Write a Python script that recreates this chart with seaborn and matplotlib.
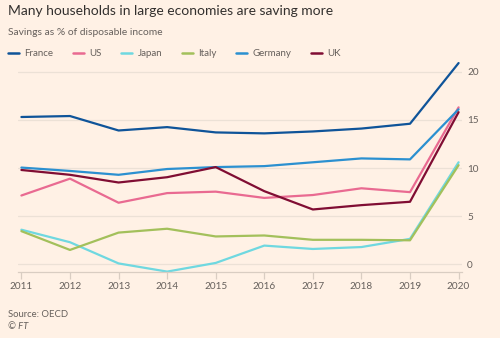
import matplotlib
matplotlib.use("Agg")
import matplotlib.pyplot as plt
import seaborn as sns
import pandas as pd

years = [2011, 2012, 2013, 2014, 2015, 2016, 2017, 2018, 2019, 2020]
countries = ["France", "US", "Japan", "Italy", "Germany", "UK"]
france = [15.3, 15.4, 13.9, 14.25, 13.7, 13.6, 13.8, 14.1, 14.6, 20.9]
us = [7.15, 8.9, 6.4, 7.4, 7.55, 6.9, 7.2, 7.9, 7.5, 16.3]
japan = [3.6, 2.3, 0.1, -0.75, 0.15, 1.95, 1.6, 1.8, 2.65, 10.6]
italy = [3.45, 1.5, 3.3, 3.7, 2.9, 3.0, 2.55, 2.55, 2.5, 10.3]
germany = [10.05, 9.7, 9.3, 9.9, 10.1, 10.2, 10.6, 11.0, 10.9, 16.1]
uk = [9.8, 9.3, 8.5, 9.05, 10.1, 7.6, 5.7, 6.15, 6.5, 15.8]
yticks = [0, 5, 10, 15, 20]

colors = ["#0f5499", "#e96a91", "#6fd8e0", "#a3c05b", "#2b90d0", "#800d33"]

series = [france, us, japan, italy, germany, uk]
df = pd.DataFrame({
    "year": years * len(countries),
    "country": [c for c in countries for _ in years],
    "savings": [v for s in series for v in s],
})

BG = "#fff1e5"
sns.set_theme(style="white")
plt.rcParams["font.family"] = ["Lato", "DejaVu Sans"]

fig = plt.figure(figsize=(5.0, 3.38), dpi=100, facecolor=BG)
ax = fig.add_axes([0.036, 0.195, 0.887, 0.627], facecolor=BG)

sns.lineplot(data=df, x="year", y="savings", hue="country", hue_order=countries,
             palette=colors, linewidth=1.6, ax=ax, legend=False)

ax.set_xlim(2010.93, 2020.06)
ax.set_ylim(-0.8, 21.2)
ax.set_xticks(years)
ax.set_xticklabels([str(y) for y in years])
ax.set_yticks(yticks)
ax.set_yticklabels([str(t) for t in yticks])
ax.yaxis.tick_right()
ax.grid(axis="y", color="#ece1d6", linewidth=0.9)
ax.set_axisbelow(True)
for side in ["left", "right", "top"]:
    ax.spines[side].set_visible(False)
ax.spines["bottom"].set_color("#d9cdc2")
ax.spines["bottom"].set_linewidth(0.9)
ax.tick_params(axis="x", length=5, width=0.9, color="#d9cdc2", pad=2,
               labelsize=7.2, labelcolor="#66605c", direction="out", bottom=True)
ax.tick_params(axis="y", length=0, pad=4, labelsize=7.2, labelcolor="#66605c")
ax.set_xlabel("")
ax.set_ylabel("")

fig.text(0.016, 0.966, "Many households in large economies are saving more",
         fontsize=10.0, color="#33302e", va="center", ha="left")
fig.text(0.016, 0.905, "Savings as % of disposable income",
         fontsize=7.4, color="#66605c", va="center", ha="left")

handles = [plt.Line2D([], [], color=c, linewidth=1.8) for c in colors]
fig.legend(handles, countries, loc="center left", bbox_to_anchor=(0.016, 0.842),
           ncol=6, frameon=False, fontsize=7.0, labelcolor="#66605c",
           handlelength=1.1, handletextpad=0.6, columnspacing=2.0,
           borderaxespad=0, borderpad=0)

fig.text(0.016, 0.071, "Source: OECD", fontsize=6.8, color="#66605c",
         va="center", ha="left")
fig.text(0.016, 0.034, "© FT", fontsize=6.8, color="#66605c", style="italic",
         va="center", ha="left")

fig.savefig("out.png", dpi=100, facecolor=BG)
